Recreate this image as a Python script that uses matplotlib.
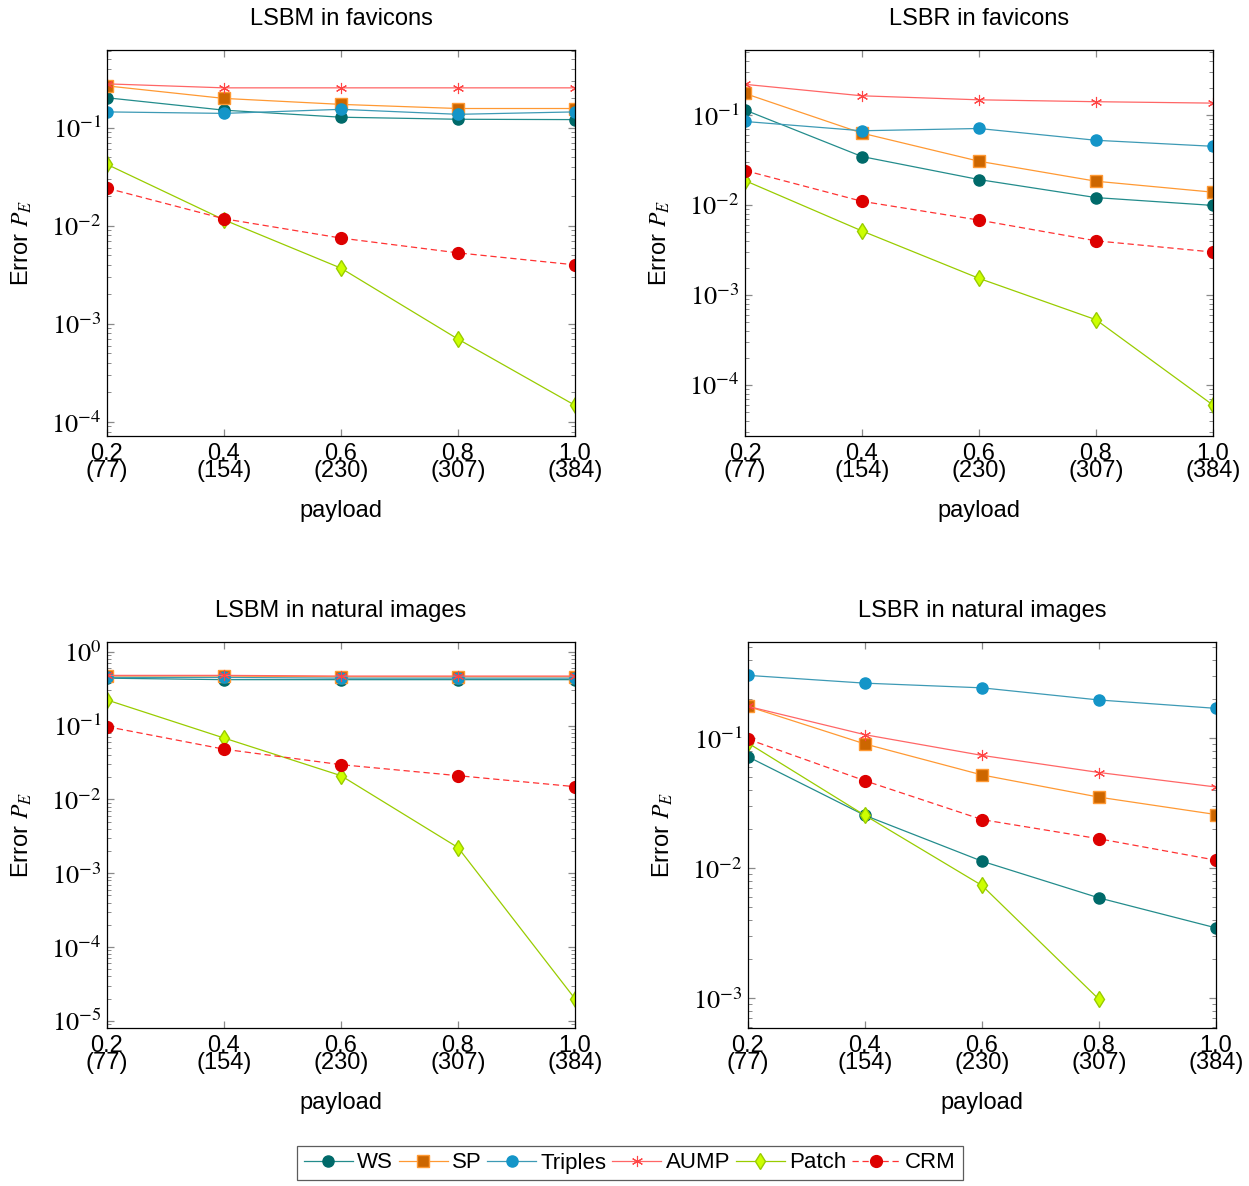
import matplotlib
matplotlib.use("Agg")
import matplotlib.pyplot as plt
import numpy as np
from matplotlib.ticker import LogLocator, NullFormatter, FuncFormatter, FixedLocator

plt.rcParams['font.family'] = ['Liberation Sans', 'DejaVu Sans']
plt.rcParams['mathtext.fontset'] = 'stix'

payload = [0.2, 0.4, 0.6, 0.8, 1.0]
xtick_labels = ["0.2\n(77)", "0.4\n(154)", "0.6\n(230)", "0.8\n(307)", "1.0\n(384)"]
series = ["WS", "SP", "Triples", "AUMP", "Patch", "CRM"]
titles = ["LSBM in favicons", "LSBR in favicons", "LSBM in natural images", "LSBR in natural images"]

# LSBM in favicons
fav_lsbm_ws = [0.202, 0.151, 0.128, 0.122, 0.121]
fav_lsbm_sp = [0.267, 0.199, 0.173, 0.157, 0.157]
fav_lsbm_triples = [0.145, 0.140, 0.154, 0.137, 0.145]
fav_lsbm_aump = [0.280, 0.255, 0.255, 0.255, 0.255]
fav_lsbm_patch = [0.0423, 0.0115, 0.0037, 0.00070, 0.000148]
fav_lsbm_crm = [0.0242, 0.0118, 0.0075, 0.0053, 0.0040]

# LSBR in favicons
fav_lsbr_ws = [0.114, 0.0346, 0.0192, 0.0121, 0.0099]
fav_lsbr_sp = [0.174, 0.063, 0.0307, 0.0184, 0.0139]
fav_lsbr_triples = [0.085, 0.067, 0.071, 0.0525, 0.045]
fav_lsbr_aump = [0.220, 0.164, 0.148, 0.141, 0.136]
fav_lsbr_patch = [0.0187, 0.00515, 0.00153, 0.00053, 0.0000596]
fav_lsbr_crm = [0.0242, 0.0110, 0.0068, 0.0040, 0.0030]

# LSBM in natural images
nat_lsbm_ws = [0.44, 0.42, 0.42, 0.42, 0.42]
nat_lsbm_sp = [0.47, 0.47, 0.46, 0.46, 0.46]
nat_lsbm_triples = [0.45, 0.45, 0.44, 0.44, 0.44]
nat_lsbm_aump = [0.48, 0.48, 0.47, 0.47, 0.47]
nat_lsbm_patch = [0.223, 0.068, 0.021, 0.00223, 0.0000199]
nat_lsbm_crm = [0.097, 0.048, 0.0296, 0.021, 0.0149]

# LSBR in natural images
nat_lsbr_ws = [0.0718, 0.0254, 0.0113, 0.0059, 0.00347]
nat_lsbr_sp = [0.175, 0.090, 0.052, 0.0351, 0.0258]
nat_lsbr_triples = [0.303, 0.264, 0.243, 0.196, 0.169]
nat_lsbr_aump = [0.175, 0.106, 0.0735, 0.0543, 0.042]
nat_lsbr_patch = [0.0915, 0.0254, 0.00735, 0.00098, np.nan]
nat_lsbr_crm = [0.098, 0.0469, 0.0236, 0.0168, 0.0115]

panels = [
    [fav_lsbm_ws, fav_lsbm_sp, fav_lsbm_triples, fav_lsbm_aump, fav_lsbm_patch, fav_lsbm_crm],
    [fav_lsbr_ws, fav_lsbr_sp, fav_lsbr_triples, fav_lsbr_aump, fav_lsbr_patch, fav_lsbr_crm],
    [nat_lsbm_ws, nat_lsbm_sp, nat_lsbm_triples, nat_lsbm_aump, nat_lsbm_patch, nat_lsbm_crm],
    [nat_lsbr_ws, nat_lsbr_sp, nat_lsbr_triples, nat_lsbr_aump, nat_lsbr_patch, nat_lsbr_crm],
]
ylims = [(7.2e-5, 0.62), (2.7e-5, 0.53), (8.0e-6, 1.36), (5.9e-4, 0.547)]

styles = {
    "WS": dict(color="#238c8c", marker="o", ms=8, mfc="#006a6a", mec="#006a6a", ls="-"),
    "SP": dict(color="#ff9933", marker="s", ms=8, mfc="#cc6600", mec="#ff9933", ls="-"),
    "Triples": dict(color="#3d9ab5", marker="o", ms=8, mfc="#1495c8", mec="#1495c8", ls="-"),
    "AUMP": dict(color="#ff6666", marker=(6, 2, 0), ms=8, mfc="#ff4444", mec="#ff4444", ls="-", mew=0.8),
    "Patch": dict(color="#99cc00", marker="d", ms=8, mfc="#ccff00", mec="#99cc00", ls="-"),
    "CRM": dict(color="#ff3333", marker="o", ms=8.5, mfc="#dd0000", mec="#dd0000", ls=(0, (5, 3))),
}

FS = 17
W, H = 1249, 1186
fig = plt.figure(figsize=(W / 100, H / 100), dpi=100)
boxes = [(107, 50), (745, 50), (107, 642), (748, 642)]
aw, ah = 468, 386

def fmt(v, pos):
    e = int(np.round(np.log10(v)))
    return r"$10^{%d}$" % e

handles = []
for i, (bx, by) in enumerate(boxes):
    ax = fig.add_axes([bx / W, 1 - (by + ah) / H, aw / W, ah / H])
    for name, vals in zip(series, panels[i]):
        st = dict(styles[name])
        h, = ax.plot(payload, vals, lw=0.9, label=name, **st)
        if i == 0:
            handles.append(h)
    ax.set_yscale("log")
    ax.set_xlim(0.2, 1.0)
    ax.set_ylim(*ylims[i])
    ax.yaxis.set_major_locator(LogLocator(base=10, subs=(1.0,), numticks=30))
    ax.yaxis.set_minor_locator(LogLocator(base=10, subs=np.arange(2, 10), numticks=30))
    ax.yaxis.set_major_formatter(FuncFormatter(fmt))
    ax.yaxis.set_minor_formatter(NullFormatter())
    ax.xaxis.set_major_locator(FixedLocator(payload))
    ax.set_xticklabels(xtick_labels, linespacing=0.72)
    ax.tick_params(axis="both", which="both", direction="in", top=True, right=True,
                   color="#8a8a8a", labelsize=FS)
    ax.tick_params(axis="both", which="major", length=5, width=0.9)
    ax.tick_params(axis="y", which="minor", length=3, width=0.7)
    ax.tick_params(axis="x", which="major", pad=5)
    ax.tick_params(axis="y", which="major", pad=4, labelsize=19)
    for sp in ax.spines.values():
        sp.set_linewidth(0.9)
    ax.set_title(titles[i], fontsize=FS, pad=18)
    ax.set_xlabel("payload", fontsize=FS)
    ax.xaxis.set_label_coords(0.5, -0.165)
    ax.set_ylabel(r"Error $P_E$", fontsize=FS)
    ax.yaxis.set_label_coords(-0.155, 0.5)
    for lab in ax.get_xticklabels():
        lab.set_fontsize(FS)

leg = fig.legend(handles=handles, labels=series, loc="center", ncol=6,
                 bbox_to_anchor=(630 / W, 1 - 1163 / H), fontsize=16,
                 frameon=True, fancybox=False, edgecolor="#333333",
                 handlelength=2.2, handletextpad=0.2, columnspacing=0.25,
                 borderpad=0.3)
leg.get_frame().set_linewidth(0.9)

fig.savefig("out.png", dpi=100)
